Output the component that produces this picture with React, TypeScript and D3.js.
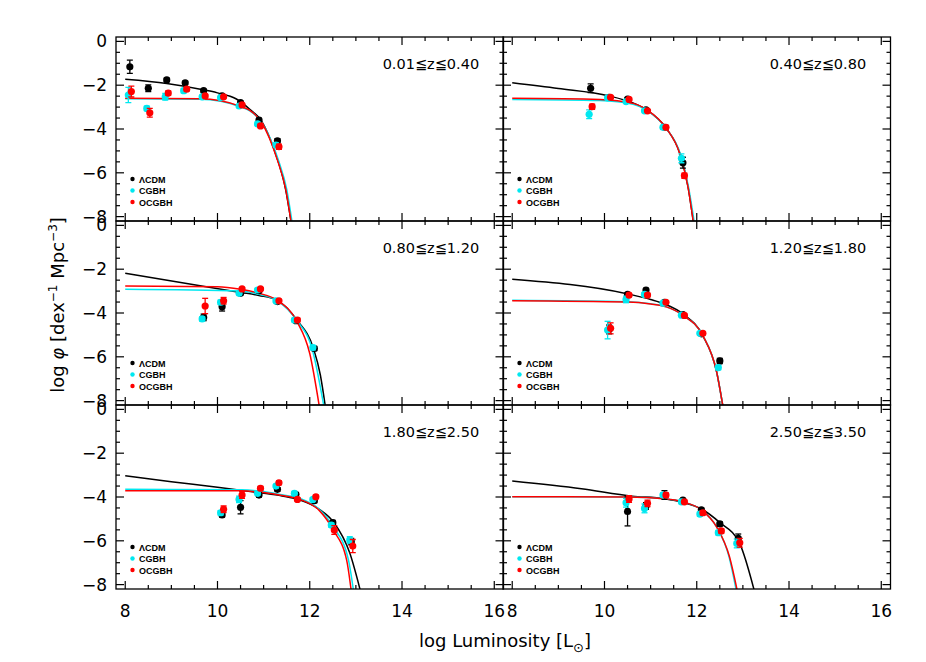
import React from "react";
import * as d3 from "d3";

// ---------- data ----------
const panelLabels = ["0.01≦z≦0.40", "0.40≦z≦0.80", "0.80≦z≦1.20", "1.20≦z≦1.80", "1.80≦z≦2.50", "2.50≦z≦3.50"];
const seriesNames = ["ΛCDM", "CGBH", "OCGBH"];
const xTicks = [8, 10, 12, 14, 16];
const yTicks = [0, -2, -4, -6, -8];

// panel 1
const lum1 = [8.1, 8.5, 8.9, 9.3, 9.7, 10.1, 10.5, 10.9, 11.3];
const lcdm1 = [-1.16, -2.14, -1.76, -1.89, -2.25, -2.49, -2.8, -3.59, -4.54];
const lcdmErr1 = [0.3, 0.15, 0.08, 0.08, 0.06, 0.06, 0.06, 0.08, 0.1];
const cgbh1 = [-2.45, -3.06, -2.53, -2.25, -2.53, -2.57, -2.95, -3.77, -4.73];
const cgbhErr1 = [0.35, 0.1, 0.15, 0.1, 0.08, 0.06, 0.06, 0.08, 0.1];
const ocgbh1 = [-2.29, -3.26, -2.36, -2.18, -2.49, -2.53, -2.9, -3.86, -4.81];
const ocgbhErr1 = [0.25, 0.2, 0.1, 0.08, 0.06, 0.06, 0.06, 0.08, 0.12];
const lcdmFit1 = [[8.0, -1.73], [8.9, -1.92], [9.6, -2.17], [10.0, -2.35], [10.4, -2.62], [10.7, -3.1], [10.95, -3.62], [11.23, -4.96], [11.48, -6.79], [11.6, -8.3]];
const cgbhFit1 = [[8.0, -2.62], [9.6, -2.64], [10.07, -2.73], [10.5, -2.99], [10.7, -3.17], [10.96, -3.7], [11.32, -5.42], [11.5, -6.75], [11.62, -8.3]];
const ocgbhFit1 = [[8.0, -2.6], [9.6, -2.62], [10.07, -2.71], [10.5, -2.97], [10.7, -3.15], [10.95, -3.68], [11.3, -5.42], [11.48, -6.75], [11.6, -8.3]];

// panel 2
const lum2 = [9.7, 10.1, 10.5, 10.9, 11.3, 11.7];
const lcdm2 = [-2.14, -2.55, -2.63, -3.13, -3.92, -5.54];
const lcdmErr2 = [0.2, 0.05, 0.05, 0.05, 0.08, 0.25];
const cgbh2 = [-3.33, -2.58, -2.75, -3.17, -3.92, -5.34];
const cgbhErr2 = [0.2, 0.05, 0.05, 0.05, 0.08, 0.2];
const ocgbh2 = [-2.98, -2.55, -2.65, -3.17, -3.92, -6.13];
const ocgbhErr2 = [0.12, 0.05, 0.05, 0.05, 0.08, 0.12];
const lcdmFit2 = [[8.0, -1.89], [9.0, -2.15], [10.1, -2.49], [10.6, -2.8], [10.92, -3.13], [11.34, -3.97], [11.63, -5.11], [11.81, -6.63], [11.93, -8.3]];
const cgbhFit2 = [[8.0, -2.65], [9.9, -2.7], [10.62, -2.87], [10.92, -3.15], [11.34, -3.98], [11.64, -5.11], [11.82, -6.63], [11.95, -8.3]];
const ocgbhFit2 = [[8.0, -2.6], [9.9, -2.65], [10.62, -2.83], [10.92, -3.13], [11.34, -3.97], [11.63, -5.11], [11.81, -6.63], [11.93, -8.3]];

// panel 3
const lum3 = [9.7, 10.1, 10.5, 10.9, 11.3, 11.7, 12.1];
const lcdm3 = [-4.2, -3.71, -3.1, -2.98, -3.48, -4.35, -5.62];
const lcdmErr3 = [0.15, 0.2, 0.06, 0.06, 0.06, 0.08, 0.1];
const cgbh3 = [-4.27, -3.51, -3.1, -2.95, -3.45, -4.32, -5.58];
const cgbhErr3 = [0.1, 0.1, 0.06, 0.06, 0.06, 0.08, 0.1];
const ocgbh3 = [-3.68, -3.44, -2.9, -2.9, -3.44, -4.32, null];
const ocgbhErr3 = [0.35, 0.15, 0.06, 0.06, 0.06, 0.08, 0.1];
const lcdmFit3 = [[8.0, -2.19], [10.5, -3.06], [10.9, -3.2], [11.29, -3.41], [11.72, -4.32], [12.08, -5.62], [12.23, -6.83], [12.34, -8.3]];
const cgbhFit3 = [[8.0, -2.92], [10.5, -3.0], [10.9, -3.15], [11.29, -3.43], [11.72, -4.34], [12.06, -5.7], [12.31, -8.3]];
const ocgbhFit3 = [[8.0, -2.77], [10.0, -2.8], [10.5, -2.92], [10.9, -3.1], [11.29, -3.41], [11.72, -4.38], [12.0, -5.85], [12.21, -8.3]];

// panel 4
const lum4 = [10.1, 10.5, 10.9, 11.3, 11.7, 12.1, 12.5];
const lcdm4 = [-4.75, -3.15, -2.95, -3.51, -4.07, -4.95, -6.19];
const lcdmErr4 = [0.2, 0.08, 0.08, 0.06, 0.06, 0.06, 0.12];
const cgbh4 = [-4.78, -3.38, -3.15, -3.55, -4.1, -4.93, -6.49];
const cgbhErr4 = [0.4, 0.15, 0.08, 0.06, 0.06, 0.06, 0.1];
const ocgbh4 = [-4.7, -3.18, -3.18, -3.51, -4.11, -4.93, null];
const ocgbhErr4 = [0.25, 0.08, 0.08, 0.06, 0.06, 0.06, 0.1];
const lcdmFit4 = [[8.0, -2.46], [10.51, -3.13], [11.0, -3.38], [11.32, -3.6], [11.7, -4.04], [12.13, -5.03], [12.43, -6.68], [12.57, -8.3]];
const cgbhFit4 = [[8.0, -3.42], [10.5, -3.49], [11.0, -3.58], [11.34, -3.72], [11.7, -4.1], [12.13, -5.03], [12.43, -6.68], [12.57, -8.3]];
const ocgbhFit4 = [[8.0, -3.44], [10.5, -3.5], [11.0, -3.59], [11.34, -3.72], [11.7, -4.1], [12.13, -5.03], [12.43, -6.68], [12.57, -8.3]];

// panel 5
const lum5 = [10.1, 10.5, 10.9, 11.3, 11.7, 12.1, 12.5, 12.9];
const lcdm5 = [-4.82, -4.47, -3.91, -3.65, -3.88, -4.17, -5.17, -6.04];
const lcdmErr5 = [0.1, 0.3, 0.1, 0.08, 0.08, 0.08, 0.1, 0.15];
const cgbh5 = [-4.72, -4.11, -3.83, -3.5, -3.83, -4.11, -5.28, -5.96];
const cgbhErr5 = [0.1, 0.15, 0.08, 0.08, 0.08, 0.08, 0.1, 0.15];
const ocgbh5 = [-4.56, -3.91, -3.6, -3.35, -4.11, -3.99, -5.51, -6.24];
const ocgbhErr5 = [0.15, 0.15, 0.08, 0.08, 0.08, 0.08, 0.2, 0.3];
const lcdmFit5 = [[8.0, -3.03], [9.0, -3.3], [10.0, -3.55], [10.9, -3.8], [11.4, -3.95], [11.79, -4.14], [12.2, -4.55], [12.51, -5.13], [12.87, -6.57], [13.1, -8.3]];
const cgbhFit5 = [[8.0, -3.65], [10.5, -3.67], [11.0, -3.75], [11.4, -3.9], [11.79, -4.06], [12.2, -4.55], [12.51, -5.36], [12.84, -6.88], [12.95, -8.3]];
const ocgbhFit5 = [[8.0, -3.71], [10.5, -3.72], [11.0, -3.8], [11.4, -3.93], [11.79, -4.11], [12.2, -4.6], [12.51, -5.51], [12.8, -6.88], [12.9, -8.3]];

// panel 6
const lum6 = [10.5, 10.9, 11.3, 11.7, 12.1, 12.5, 12.9];
const lcdm6 = [-4.66, -4.41, -3.91, -4.14, -4.59, -5.23, -5.89];
const lcdmErr6 = [0.66, 0.15, 0.2, 0.08, 0.08, 0.1, 0.2];
const cgbh6 = [-4.26, -4.52, -3.91, -4.22, -4.78, -5.63, -6.12];
const cgbhErr6 = [0.2, 0.2, 0.1, 0.08, 0.1, 0.1, 0.2];
const ocgbh6 = [-4.09, -4.29, -3.91, -4.22, -4.72, -5.55, -6.09];
const ocgbhErr6 = [0.15, 0.15, 0.1, 0.08, 0.1, 0.1, 0.2];
const lcdmFit6 = [[8.0, -3.27], [9.5, -3.62], [10.6, -3.96], [11.3, -4.08], [11.7, -4.25], [12.11, -4.56], [12.5, -5.17], [12.93, -6.12], [13.25, -8.3]];
const cgbhFit6 = [[8.0, -3.99], [10.5, -4.0], [11.3, -4.08], [11.7, -4.22], [12.11, -4.6], [12.43, -5.36], [12.7, -6.73], [12.86, -8.3]];
const ocgbhFit6 = [[8.0, -3.99], [10.5, -4.0], [11.3, -4.08], [11.7, -4.22], [12.11, -4.6], [12.43, -5.36], [12.71, -6.73], [12.88, -8.3]];

// ---------- layout & style ----------
const W = 926, H = 662;
const colX = [116, 503];
const PW = 387.5;
const rowY = [37, 221, 405];
const PH = 184;
const XDOM: [number, number] = [7.8, 16.2];
const YDOM: [number, number] = [-8.2, 0.2];
const COLORS = ["#000000", "#00e8f0", "#ff0000"];
const DX = [0, -1.5, 1.5];
const FONT = "'DejaVu Sans', sans-serif";

const panels = [
  { lum: lum1, ys: [lcdm1, cgbh1, ocgbh1], errs: [lcdmErr1, cgbhErr1, ocgbhErr1], fits: [lcdmFit1, cgbhFit1, ocgbhFit1] },
  { lum: lum2, ys: [lcdm2, cgbh2, ocgbh2], errs: [lcdmErr2, cgbhErr2, ocgbhErr2], fits: [lcdmFit2, cgbhFit2, ocgbhFit2] },
  { lum: lum3, ys: [lcdm3, cgbh3, ocgbh3], errs: [lcdmErr3, cgbhErr3, ocgbhErr3], fits: [lcdmFit3, cgbhFit3, ocgbhFit3] },
  { lum: lum4, ys: [lcdm4, cgbh4, ocgbh4], errs: [lcdmErr4, cgbhErr4, ocgbhErr4], fits: [lcdmFit4, cgbhFit4, ocgbhFit4] },
  { lum: lum5, ys: [lcdm5, cgbh5, ocgbh5], errs: [lcdmErr5, cgbhErr5, ocgbhErr5], fits: [lcdmFit5, cgbhFit5, ocgbhFit5] },
  { lum: lum6, ys: [lcdm6, cgbh6, ocgbh6], errs: [lcdmErr6, cgbhErr6, ocgbhErr6], fits: [lcdmFit6, cgbhFit6, ocgbhFit6] },
];

function Panel({ idx }: { idx: number }) {
  const col = idx % 2;
  const row = Math.floor(idx / 2);
  const x0 = colX[col];
  const y0 = rowY[row];
  const x = d3.scaleLinear().domain(XDOM).range([x0, x0 + PW]);
  const y = d3.scaleLinear().domain(YDOM).range([y0 + PH, y0]);
  const p = panels[idx];
  const line = d3
    .line<number[]>()
    .x((d) => x(d[0]))
    .y((d) => y(d[1]))
    .curve(d3.curveMonotoneX);
  const clipId = `clip${idx}`;
  const xMinor = d3.range(8, 16.01, 0.5);
  const yMinor = d3.range(-8, 0.01, 0.5);
  const majorLen = 8, minorLen = 4;
  const ticks: JSX.Element[] = [];
  xMinor.forEach((v, i) => {
    const len = Math.abs(v % 2) < 1e-6 ? majorLen : minorLen;
    const px = x(v);
    ticks.push(<line key={`xb${i}`} x1={px} x2={px} y1={y0 + PH} y2={y0 + PH - len} />);
    ticks.push(<line key={`xt${i}`} x1={px} x2={px} y1={y0} y2={y0 + len} />);
  });
  yMinor.forEach((v, i) => {
    const len = Math.abs(v % 2) < 1e-6 ? majorLen : minorLen;
    const py = y(v);
    ticks.push(<line key={`yl${i}`} x1={x0} x2={x0 + len} y1={py} y2={py} />);
    ticks.push(<line key={`yr${i}`} x1={x0 + PW} x2={x0 + PW - len} y1={py} y2={py} />);
  });
  return (
    <g>
      <defs>
        <clipPath id={clipId}>
          <rect x={x0} y={y0} width={PW} height={PH} />
        </clipPath>
      </defs>
      <g clipPath={`url(#${clipId})`}>
        {p.fits.map((f, s) => (
          <path key={`f${s}`} d={line(f as number[][]) || ""} fill="none" stroke={COLORS[s]} strokeWidth={1.5} />
        ))}
        {p.ys.map((ys, s) => (
          <g key={`s${s}`} fill={COLORS[s]} stroke={COLORS[s]}>
            {ys.map((v, i) => {
              if (v === null || v === undefined) return null;
              const cx = x(p.lum[i]) + DX[s];
              const e = p.errs[s][i];
              const yt = y((v as number) + e);
              const yb = y((v as number) - e);
              return (
                <g key={i}>
                  <line x1={cx} x2={cx} y1={yt} y2={yb} strokeWidth={1.3} />
                  <line x1={cx - 3} x2={cx + 3} y1={yt} y2={yt} strokeWidth={1.3} />
                  <line x1={cx - 3} x2={cx + 3} y1={yb} y2={yb} strokeWidth={1.3} />
                  <circle cx={cx} cy={y(v as number)} r={3.6} stroke="none" />
                </g>
              );
            })}
          </g>
        ))}
      </g>
      <rect x={x0} y={y0} width={PW} height={PH} fill="none" stroke="#000" strokeWidth={1.3} />
      <g stroke="#000" strokeWidth={1.2}>{ticks}</g>
      <text x={x(13.58)} y={y0 + 32} fontFamily={FONT} fontSize={14.5} fill="#000">
        {panelLabels[idx]}
      </text>
      {seriesNames.map((n, s) => (
        <g key={n}>
          <circle cx={x0 + 16.5} cy={y0 + 142 + s * 11.5} r={2.2} fill={COLORS[s]} />
          <text x={x0 + 23} y={y0 + 145.5 + s * 11.5} fontFamily="'Liberation Sans', Arial, sans-serif" fontWeight="bold" fontSize={9} fill="#000">
            {n}
          </text>
        </g>
      ))}
      {col === 0 &&
        yTicks.map((t) => (
          <text key={`yl${t}`} x={x0 - 9} y={y(t) + 6} textAnchor="end" fontFamily={FONT} fontSize={17} fill="#000">
            {t === 0 ? "0" : `\u2212${-t}`}
          </text>
        ))}
      {row === 2 &&
        xTicks.map((t) => (
          <text key={`xl${t}`} x={x(t)} y={617} textAnchor="middle" fontFamily={FONT} fontSize={17} fill="#000">
            {t}
          </text>
        ))}
    </g>
  );
}

export default function App() {
  return (
    <svg width={W} height={H} style={{ position: "absolute", left: 0, top: 0, background: "#fff" }}>
      <rect width={W} height={H} fill="#fff" />
      {panels.map((_, i) => (
        <Panel key={i} idx={i} />
      ))}
      <text x={505} y={647} textAnchor="middle" fontFamily={FONT} fontSize={18} fill="#000">
        log Luminosity [L<tspan dy={5} fontSize={13}>⊙</tspan><tspan dy={-5}>]</tspan>
      </text>
      <text transform="translate(64,305) rotate(-90)" textAnchor="middle" fontFamily={FONT} fontSize={18} fill="#000">
        log <tspan fontStyle="italic">φ</tspan> [dex<tspan dy={-7} fontSize={12}>−1</tspan>
        <tspan dy={7}> Mpc</tspan>
        <tspan dy={-7} fontSize={12}>−3</tspan>
        <tspan dy={7}>]</tspan>
      </text>
    </svg>
  );
}
